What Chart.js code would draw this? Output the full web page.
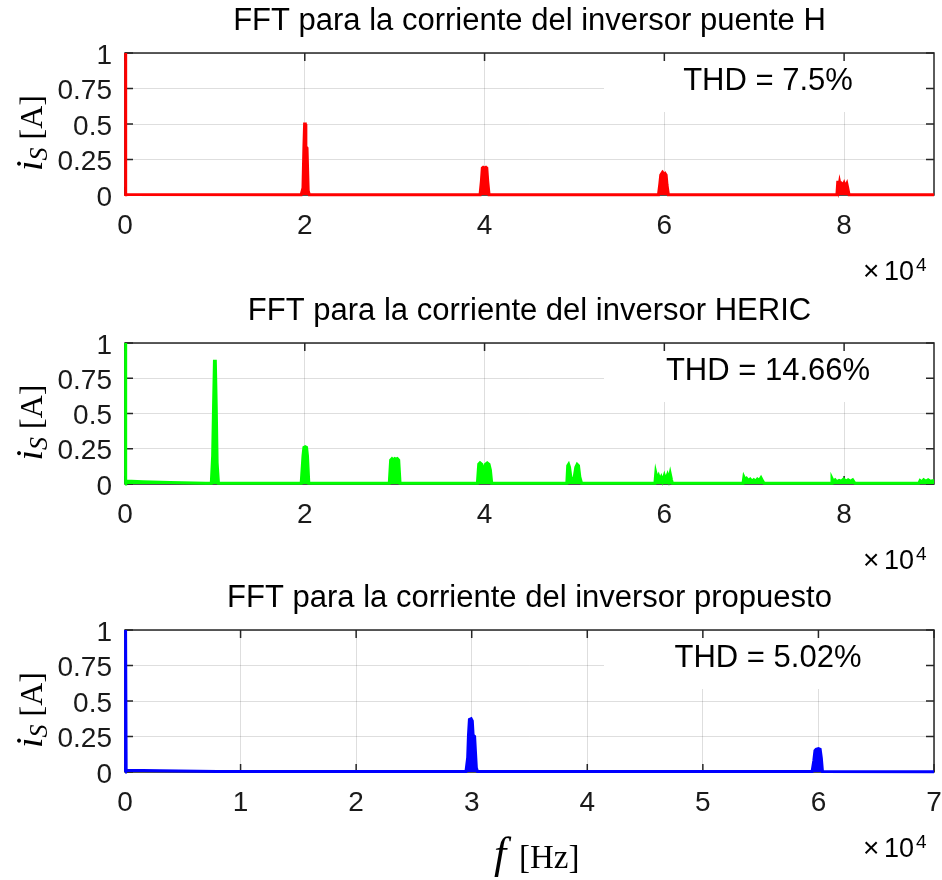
<!DOCTYPE html>
<html>
<head>
<meta charset="utf-8">
<script src="https://cdn.jsdelivr.net/npm/chart.js@4.4.0/dist/chart.umd.min.js"></script>
<style>
  body { margin: 0; background: #fff; }
  #wrap { position: relative; width: 942px; height: 880px; }
  .panel { position: absolute; left: 0; }
</style>
</head>
<body>
<div id="wrap">
  <canvas id="chartH" class="panel" width="942" height="290" style="top:0px"></canvas>
  <canvas id="chartHeric" class="panel" width="942" height="287" style="top:290px"></canvas>
  <canvas id="chartProp" class="panel" width="942" height="303" style="top:577px"></canvas>
</div>
<script>
// ---- data (Hz, A) ----
const freqH = [0, 50, 100, 19600, 19800, 19900, 19980, 20060, 20120, 20250, 20380, 20500,
  39500, 39650, 39750, 39850, 40000, 40150, 40250, 40350, 40500,
  59350, 59500, 59600, 59700, 59800, 59900, 60000, 60100, 60200, 60300, 60450,
  79200, 79300, 79400, 79500, 79600, 79750, 79900, 80000, 80150, 80300, 80400, 80550, 90000];
const ampH = [0, 1, 0.004, 0.002, 0.05, 0.33, 0.5, 0.5, 0.34, 0.33, 0.03, 0.002,
  0.002, 0.1, 0.19, 0.195, 0.19, 0.195, 0.19, 0.1, 0.002,
  0.002, 0.08, 0.14, 0.15, 0.12, 0.15, 0.14, 0.15, 0.14, 0.07, 0.002,
  0.002, 0.1, 0.05, 0.09, 0.06, 0.08, 0.07, 0.085, 0.06, 0.08, 0.05, 0.002, 0.002];

const freqHeric = [0, 50, 100, 2000, 5000, 9000,
  9600, 9750, 9850, 9950, 10050, 10150, 10250, 10400,
  19600, 19800, 19900, 20050, 20200, 20300, 20450,
  29400, 29550, 29700, 29850, 30000, 30150, 30300, 30450, 30600,
  39200, 39350, 39500, 39700, 39850, 39950, 40100, 40300, 40500, 40650, 40800,
  49150, 49250, 49350, 49450, 49600, 49800, 49950, 50150, 50300, 50450, 50600, 50800,
  58950, 59050, 59200, 59350, 59500, 59650, 59800, 60000, 60150, 60350, 60500, 60650, 60800, 60900,
  68750, 68850, 69000, 69150, 69350, 69550, 69750, 69950, 70150, 70350, 70550, 70750, 70950, 71100,
  78550, 78650, 78800, 79000, 79200, 79450, 79700, 79950, 80200, 80450, 80700, 80950, 81200,
  88300, 88450, 88650, 88850, 89100, 89350, 89600, 90000];
const ampHeric = [0, 1, 0.022, 0.016, 0.01, 0.006,
  0.005, 0.2, 0.55, 0.87, 0.87, 0.55, 0.15, 0.005,
  0.005, 0.2, 0.26, 0.265, 0.26, 0.2, 0.005,
  0.005, 0.17, 0.18, 0.17, 0.18, 0.175, 0.18, 0.17, 0.005,
  0.005, 0.14, 0.15, 0.14, 0.1, 0.09, 0.14, 0.15, 0.14, 0.1, 0.005,
  0.005, 0.13, 0.14, 0.12, 0.05, 0.03, 0.04, 0.12, 0.14, 0.13, 0.05, 0.005,
  0.005, 0.08, 0.04, 0.06, 0.03, 0.05, 0.02, 0.06, 0.03, 0.065, 0.03, 0.075, 0.03, 0.005,
  0.005, 0.05, 0.03, 0.04, 0.025, 0.035, 0.02, 0.03, 0.02, 0.035, 0.025, 0.045, 0.02, 0.005,
  0.005, 0.04, 0.02, 0.03, 0.015, 0.025, 0.02, 0.035, 0.02, 0.03, 0.02, 0.03, 0.005,
  0.005, 0.025, 0.015, 0.03, 0.02, 0.03, 0.02, 0.025];

const freqProp = [0, 50, 100, 3000, 8000, 12000,
  29500, 29650, 29720, 29800, 29950, 30050, 30120, 30250, 30400, 30500,
  59450, 59600, 59700, 59800, 60000, 60150, 60250, 60350, 70000];
const ampProp = [0, 1, 0.012, 0.008, 0.004, 0.003,
  0.003, 0.1, 0.26, 0.37, 0.375, 0.36, 0.26, 0.25, 0.03, 0.003,
  0.003, 0.08, 0.15, 0.16, 0.165, 0.16, 0.1, 0.003, 0.002];

const yTickValues = [0, 0.25, 0.5, 0.75, 1];
const yTickLabels = ['0', '0.25', '0.5', '0.75', '1'];
const xTickValues9 = [0, 20000, 40000, 60000, 80000];
const xTickLabels9 = ['0', '2', '4', '6', '8'];
const xTickValues7 = [0, 10000, 20000, 30000, 40000, 50000, 60000, 70000];
const xTickLabels7 = ['0', '1', '2', '3', '4', '5', '6', '7'];

const titles = [
  'FFT para la corriente del inversor puente H',
  'FFT para la corriente del inversor HERIC',
  'FFT para la corriente del inversor propuesto'
];
const thdLabels = ['THD = 7.5%', 'THD = 14.66%', 'THD = 5.02%'];

const SANS = '"Liberation Sans", Arial, Helvetica, sans-serif';
const SERIF = '"Liberation Serif", "Times New Roman", serif';

// MATLAB-ish box, inward ticks and the annotations
const matlabLook = {
  id: 'matlabLook',
  beforeDatasetsDraw(chart, args, opts) {
    const ctx = chart.ctx, a = chart.chartArea;
    const xs = chart.scales.x, ys = chart.scales.y;
    ctx.save();
    // the THD text box hides the grid under it
    ctx.fillStyle = '#fff';
    ctx.fillRect(604, a.top + 1, a.right - 2 - 604, 58);
    ctx.strokeStyle = '#262626';
    ctx.lineWidth = 1.5;
    ctx.strokeRect(a.left, a.top, a.right - a.left, a.bottom - a.top);
    ctx.beginPath();
    xs.ticks.forEach(t => {
      const px = xs.getPixelForValue(t.value);
      ctx.moveTo(px, a.top); ctx.lineTo(px, a.top + 8);
      ctx.moveTo(px, a.bottom); ctx.lineTo(px, a.bottom - 8);
    });
    ys.ticks.forEach(t => {
      const py = ys.getPixelForValue(t.value);
      ctx.moveTo(a.left, py); ctx.lineTo(a.left + 8, py);
      ctx.moveTo(a.right, py); ctx.lineTo(a.right - 8, py);
    });
    ctx.stroke();
    ctx.restore();
  },
  afterDraw(chart, args, opts) {
    const ctx = chart.ctx, a = chart.chartArea;
    ctx.save();
    ctx.fillStyle = '#000';

    // THD annotation
    ctx.font = '31px ' + SANS;
    ctx.textAlign = 'center';
    ctx.textBaseline = 'middle';
    ctx.fillText(opts.thd, 768, a.top + 28);

    // x10^4 exponent label
    ctx.textAlign = 'left';
    ctx.textBaseline = 'alphabetic';
    ctx.font = '28px ' + SANS;
    ctx.fillText('\u00d7', 863, a.bottom + 85);
    ctx.font = '27px ' + SANS;
    ctx.fillText('10', 884, a.bottom + 85);
    ctx.font = '19px ' + SANS;
    ctx.fillText('4', 916, a.bottom + 76);

    // y label  i_S [A]
    ctx.save();
    ctx.translate(42, (a.top + a.bottom) / 2 + 9);
    ctx.rotate(-Math.PI / 2);
    const fI = 'italic 38px ' + SERIF, fS = 'italic 26px ' + SERIF, fA = '32px ' + SERIF;
    ctx.font = fI; const wI = ctx.measureText('i').width;
    ctx.font = fS; const wS = ctx.measureText('S').width;
    ctx.font = fA; const wA = ctx.measureText(' [A]').width;
    let x0 = -(wI + wS + wA) / 2;
    ctx.font = fI; ctx.fillText('i', x0, 0); x0 += wI;
    ctx.font = fS; ctx.fillText('S', x0, 5); x0 += wS;
    ctx.font = fA; ctx.fillText(' [A]', x0, 0);
    ctx.restore();

    // x label on the last panel
    if (opts.xlabel) {
      ctx.font = 'italic 44px ' + SERIF;
      ctx.fillText('f', 494, a.bottom + 96);
      ctx.font = '33px ' + SERIF;
      ctx.fillText('[Hz]', 519, a.bottom + 96);
    }
    ctx.restore();
  }
};

function makeChart(id, freq, amp, color, title, thd, xMax, xVals, xLabels, xAxisH, withXLabel) {
  const ctx = document.getElementById(id).getContext('2d');
  return new Chart(ctx, {
    type: 'line',
    data: {
      datasets: [{
        data: freq.map((f, i) => ({ x: f, y: amp[i] })),
        borderColor: color,
        backgroundColor: color,
        borderWidth: 3,
        pointRadius: 0,
        tension: 0,
        fill: 'origin',
        clip: 3
      }]
    },
    options: {
      responsive: false,
      animation: false,
      layout: { padding: { left: 0, right: 8, top: 0, bottom: 0 } },
      scales: {
        x: {
          type: 'linear',
          min: 0,
          max: xMax,
          afterBuildTicks: s => { s.ticks = xVals.map(v => ({ value: v })); },
          afterFit: s => { s.height = xAxisH; s.paddingLeft = 0; s.paddingRight = 0; },
          grid: { color: 'rgba(0,0,0,0.13)', lineWidth: 1, drawTicks: false },
          border: { display: false },
          ticks: {
            autoSkip: false,
            maxRotation: 0,
            padding: 14,
            color: '#1a1a1a',
            font: { size: 28, family: SANS },
            callback: (v, i) => xLabels[i]
          }
        },
        y: {
          min: 0,
          max: 1,
          afterBuildTicks: s => { s.ticks = yTickValues.map(v => ({ value: v })); },
          afterFit: s => { s.width = 125; s.paddingTop = 0; s.paddingBottom = 0; },
          grid: { color: 'rgba(0,0,0,0.13)', lineWidth: 1, drawTicks: false },
          border: { display: false },
          ticks: {
            autoSkip: false,
            padding: 13,
            labelOffset: 3,
            color: '#1a1a1a',
            font: { size: 28, family: SANS },
            callback: (v, i) => yTickLabels[i]
          }
        }
      },
      plugins: {
        legend: { display: false },
        tooltip: { enabled: false },
        title: {
          display: true,
          text: title,
          fullSize: false,
          color: '#000',
          font: { size: 31, family: SANS, weight: 'normal' },
          padding: { top: 3, bottom: 12.8 }
        },
        matlabLook: { thd: thd, xlabel: withXLabel }
      }
    },
    plugins: [matlabLook]
  });
}

makeChart('chartH', freqH, ampH, '#ff0000', titles[0], thdLabels[0], 90000, xTickValues9, xTickLabels9, 95, false);
makeChart('chartHeric', freqHeric, ampHeric, '#00ff00', titles[1], thdLabels[1], 90000, xTickValues9, xTickLabels9, 93, false);
makeChart('chartProp', freqProp, ampProp, '#0000ff', titles[2], thdLabels[2], 70000, xTickValues7, xTickLabels7, 108, true);
</script>
</body>
</html>
